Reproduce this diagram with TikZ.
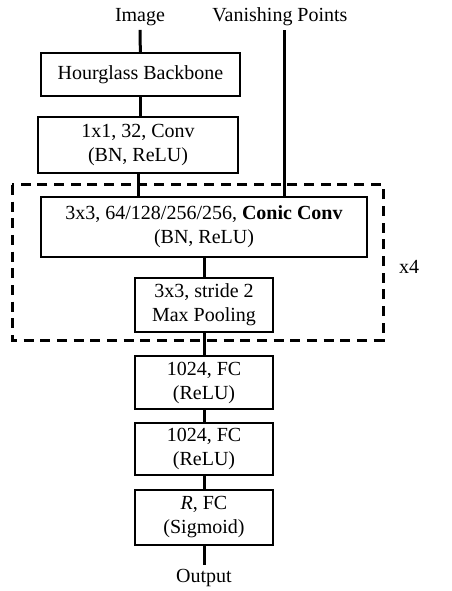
\documentclass[tikz,border=0pt]{standalone}
\usepackage{fontspec}
\setmainfont{Liberation Serif}
\usepackage{tikz}
\usetikzlibrary{arrows.meta,positioning,calc}

\begin{document}
\begin{tikzpicture}[x=0.75pt, y=-0.75pt,
    every node/.style={font=\fontsize{15}{18}\selectfont, align=center},
    block/.style={draw, line width=1.5pt, inner sep=2pt},
    wide/.style={block, minimum width=199pt*0.75, minimum height=43pt*0.75},
    narrow/.style={block, minimum width=138pt*0.75, minimum height=53pt*0.75},
    lbl/.style={inner sep=3pt},
    link/.style={line width=2.25pt},
    rep/.style={line width=2.25pt, dash pattern=on 7.5pt off 5pt}
]
\useasboundingbox (0,0) rectangle (451,591);
\node[lbl] (img) at (140,17) {Image};
\node[lbl] (vp) at (280,17) {Vanishing Points};
\node[wide] (hg) at (140.5,74.5) {Hourglass Backbone};
\node[block, minimum width=200pt*0.75, minimum height=56pt*0.75] (conv1) at (138,145)
    {1x1, 32, Conv\\(BN, ReLU)};
\node[block, minimum width=326pt*0.75, minimum height=60pt*0.75] (conic) at (204,227)
    {3x3, 64/128/256/256, \textbf{Conic Conv}\\(BN, ReLU)};
\node[narrow, minimum height=54pt*0.75] (pool) at (204,305) {3x3, stride 2\\Max Pooling};
\node[narrow] (fc1) at (204,382.5) {1024, FC\\(ReLU)};
\node[narrow, minimum height=52pt*0.75] (fc2) at (204,449) {1024, FC\\(ReLU)};
\node[narrow, minimum height=55pt*0.75] (fcr) at (204,517.5) {\textit{R}, FC\\(Sigmoid)};
\node[lbl] (out) at (204,578) {Output};
\node[lbl] (times) at (409,267) {x4};
% repeated part
\draw[rep] (12,185) rectangle (383,340);
\draw[link] (img) -- (hg);
\draw[link] (hg) -- (hg.south |- conv1.north);
\draw[link] (conv1) -- (conv1.south |- conic.north);
\draw[link] ([xshift=3pt]vp.south) -- ([xshift=3pt]vp.south |- conic.north);
\draw[link] (conic) -- (pool);
\draw[link] (pool) -- (fc1);
\draw[link] (fc1) -- (fc2);
\draw[link] (fc2) -- (fcr);
\draw[link] (fcr) -- (out);
\end{tikzpicture}
\end{document}
